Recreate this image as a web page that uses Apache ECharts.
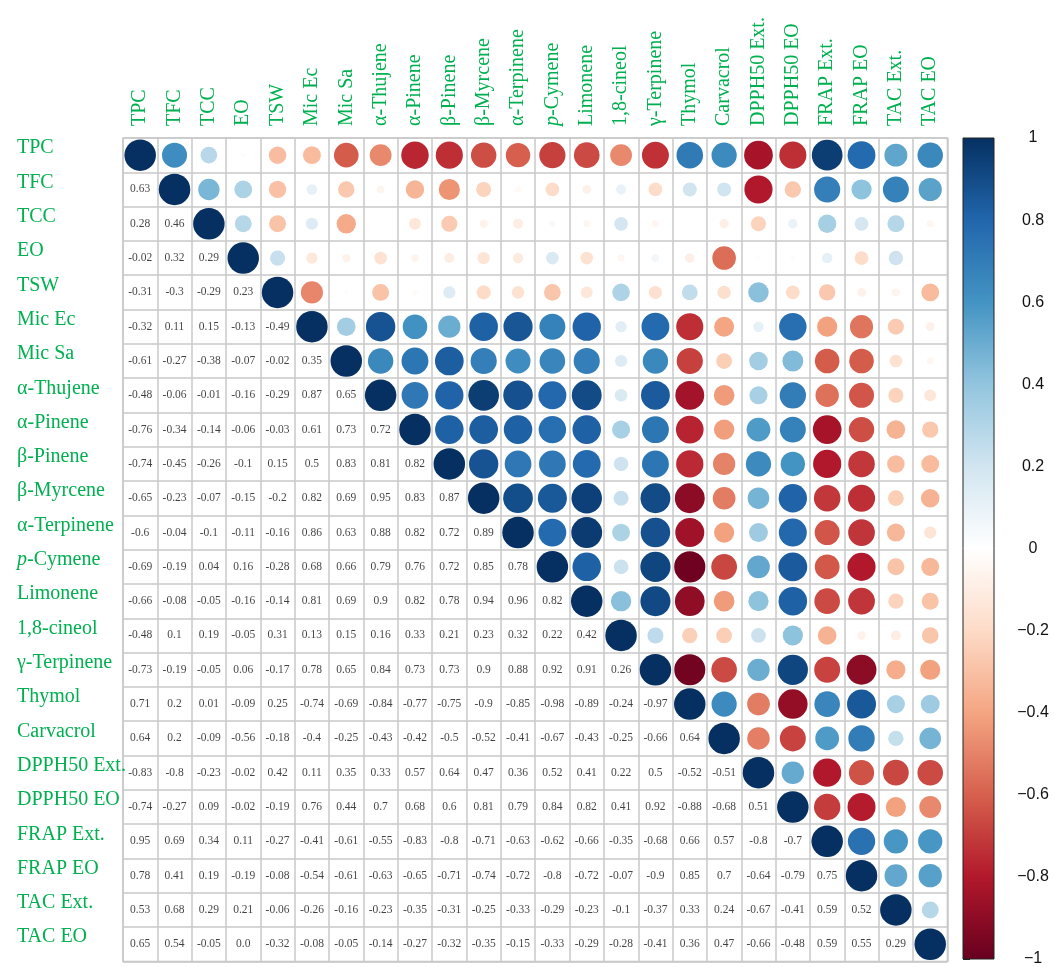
<!DOCTYPE html>
<html>
<head>
<meta charset="utf-8">
<script src="https://cdn.jsdelivr.net/npm/echarts@6/dist/echarts.min.js"></script>
<style>
  html, body { margin: 0; padding: 0; background: #ffffff; }
  #chart { width: 1054px; height: 967px; }
</style>
</head>
<body>
<div id="chart"></div>
<script>
// Variables, in matrix order (rows top to bottom, columns left to right)
const variables = ['TPC', 'TFC', 'TCC', 'EO', 'TSW', 'Mic Ec', 'Mic Sa', 'α-Thujene', 'α-Pinene',
  'β-Pinene', 'β-Myrcene', 'α-Terpinene', 'p-Cymene', 'Limonene', '1,8-cineol', 'γ-Terpinene',
  'Thymol', 'Carvacrol', 'DPPH50 Ext.', 'DPPH50 EO', 'FRAP Ext.', 'FRAP EO', 'TAC Ext.', 'TAC EO'];

// Pearson correlations, lower triangle: row i holds r(i, 0 .. i-1)
const lowerTriangle = [
  [],
  [0.63],
  [0.28, 0.46],
  [-0.02, 0.32, 0.29],
  [-0.31, -0.3, -0.29, 0.23],
  [-0.32, 0.11, 0.15, -0.13, -0.49],
  [-0.61, -0.27, -0.38, -0.07, -0.02, 0.35],
  [-0.48, -0.06, -0.01, -0.16, -0.29, 0.87, 0.65],
  [-0.76, -0.34, -0.14, -0.06, -0.03, 0.61, 0.73, 0.72],
  [-0.74, -0.45, -0.26, -0.1, 0.15, 0.5, 0.83, 0.81, 0.82],
  [-0.65, -0.23, -0.07, -0.15, -0.2, 0.82, 0.69, 0.95, 0.83, 0.87],
  [-0.6, -0.04, -0.1, -0.11, -0.16, 0.86, 0.63, 0.88, 0.82, 0.72, 0.89],
  [-0.69, -0.19, 0.04, 0.16, -0.28, 0.68, 0.66, 0.79, 0.76, 0.72, 0.85, 0.78],
  [-0.66, -0.08, -0.05, -0.16, -0.14, 0.81, 0.69, 0.9, 0.82, 0.78, 0.94, 0.96, 0.82],
  [-0.48, 0.1, 0.19, -0.05, 0.31, 0.13, 0.15, 0.16, 0.33, 0.21, 0.23, 0.32, 0.22, 0.42],
  [-0.73, -0.19, -0.05, 0.06, -0.17, 0.78, 0.65, 0.84, 0.73, 0.73, 0.9, 0.88, 0.92, 0.91, 0.26],
  [0.71, 0.2, 0.01, -0.09, 0.25, -0.74, -0.69, -0.84, -0.77, -0.75, -0.9, -0.85, -0.98, -0.89, -0.24, -0.97],
  [0.64, 0.2, -0.09, -0.56, -0.18, -0.4, -0.25, -0.43, -0.42, -0.5, -0.52, -0.41, -0.67, -0.43, -0.25, -0.66, 0.64],
  [-0.83, -0.8, -0.23, -0.02, 0.42, 0.11, 0.35, 0.33, 0.57, 0.64, 0.47, 0.36, 0.52, 0.41, 0.22, 0.5, -0.52, -0.51],
  [-0.74, -0.27, 0.09, -0.02, -0.19, 0.76, 0.44, 0.7, 0.68, 0.6, 0.81, 0.79, 0.84, 0.82, 0.41, 0.92, -0.88, -0.68, 0.51],
  [0.95, 0.69, 0.34, 0.11, -0.27, -0.41, -0.61, -0.55, -0.83, -0.8, -0.71, -0.63, -0.62, -0.66, -0.35, -0.68, 0.66, 0.57, -0.8, -0.7],
  [0.78, 0.41, 0.19, -0.19, -0.08, -0.54, -0.61, -0.63, -0.65, -0.71, -0.74, -0.72, -0.8, -0.72, -0.07, -0.9, 0.85, 0.7, -0.64, -0.79, 0.75],
  [0.53, 0.68, 0.29, 0.21, -0.06, -0.26, -0.16, -0.23, -0.35, -0.31, -0.25, -0.33, -0.29, -0.23, -0.1, -0.37, 0.33, 0.24, -0.67, -0.41, 0.59, 0.52],
  [0.65, 0.54, -0.05, 0.0, -0.32, -0.08, -0.05, -0.14, -0.27, -0.32, -0.35, -0.15, -0.33, -0.29, -0.28, -0.41, 0.36, 0.47, -0.66, -0.48, 0.59, 0.55, 0.29]
];

// Colour scale ticks (from -1 to 1)
const colorbarTickLabels = ['\u22121', '\u22120.8', '\u22120.6', '\u22120.4', '\u22120.2', '0', '0.2', '0.4', '0.6', '0.8', '1'];

// Diverging red–blue palette, -1 → 1
const rdbu = ['#67001F', '#B2182B', '#D6604D', '#F4A582', '#FDDBC7', '#FFFFFF',
  '#D1E5F0', '#92C5DE', '#4393C3', '#2166AC', '#053061'];

const labelGreen = '#00B050';
const serif = '"Liberation Serif", "Times New Roman", serif';

// Upper triangle + diagonal as circles, lower triangle as numbers
const circleData = [];
const textData = [];
for (let i = 0; i < variables.length; i++) {
  for (let j = 0; j < variables.length; j++) {
    if (j >= i) {
      const r = i === j ? 1 : lowerTriangle[j][i];
      circleData.push([j, i, r]);
    } else {
      textData.push([j, i, lowerTriangle[i][j]]);
    }
  }
}

function fmt(v) { return v === 0 ? '0.0' : String(v); }
function nameLabel(v) { return v === 'p-Cymene' ? '{i|p}-Cymene' : v; }

const gridLine = { color: '#c8c8c8', width: 1.5 };

const chart = echarts.init(document.getElementById('chart'), null, { renderer: 'canvas' });

chart.setOption({
  animation: false,
  backgroundColor: '#ffffff',
  grid: [
    { left: 123, top: 138, width: 824.4, height: 823.4, show: true, borderColor: '#c8c8c8', borderWidth: 1.5 },
    { left: 963, top: 138, width: 31, height: 823 }
  ],
  xAxis: [
    {
      gridIndex: 0, type: 'category', position: 'top', data: variables, boundaryGap: true,
      axisLine: { show: false }, axisTick: { show: false },
      splitLine: { show: true, interval: 0, lineStyle: gridLine },
      axisLabel: {
        interval: 0, rotate: -90, margin: 12, color: labelGreen, fontFamily: serif, fontSize: 20,
        formatter: nameLabel,
        rich: { i: { fontStyle: 'italic', fontFamily: serif, fontSize: 20, color: labelGreen } }
      }
    },
    { gridIndex: 1, type: 'value', min: 0, max: 1, show: false }
  ],
  yAxis: [
    {
      gridIndex: 0, type: 'category', inverse: true, data: variables, boundaryGap: true,
      axisLine: { show: false }, axisTick: { show: false },
      splitLine: { show: true, interval: 0, lineStyle: gridLine },
      axisLabel: {
        interval: 0, align: 'left', margin: 106, padding: [0, 0, 14, 0],
        color: labelGreen, fontFamily: serif, fontSize: 20,
        formatter: nameLabel,
        rich: { i: { fontStyle: 'italic', fontFamily: serif, fontSize: 20, color: labelGreen } }
      }
    },
    {
      gridIndex: 1, type: 'value', min: -1, max: 1, interval: 0.2, position: 'right',
      axisLine: { show: false },
      axisTick: { show: true, length: 7, inside: false, lineStyle: { color: '#222', width: 1 } },
      splitLine: { show: false },
      axisLabel: {
        margin: 39, align: 'center', color: '#111',
        fontFamily: '"Liberation Sans", Arial, sans-serif', fontSize: 16,
        formatter: (v, idx) => colorbarTickLabels[idx]
      }
    }
  ],
  visualMap: {
    show: false, type: 'continuous', min: -1, max: 1, dimension: 2, seriesIndex: 0,
    inRange: { color: rdbu }
  },
  series: [
    {
      name: 'circles', type: 'scatter', xAxisIndex: 0, yAxisIndex: 0,
      symbol: 'circle', data: circleData,
      symbolSize: v => Math.sqrt(Math.abs(v[2])) * 31.5,
      itemStyle: { opacity: 1 },
      z: 3
    },
    {
      name: 'values', type: 'scatter', xAxisIndex: 0, yAxisIndex: 0,
      symbol: 'circle', symbolSize: 1, data: textData,
      itemStyle: { color: 'rgba(0,0,0,0)' },
      label: {
        show: true, position: 'inside', formatter: p => fmt(p.value[2]),
        color: '#111', fontFamily: serif, fontSize: 11.5
      },
      z: 4
    },
    {
      name: 'colorbar', type: 'custom', xAxisIndex: 1, yAxisIndex: 1,
      data: [[0, -1, 1]],
      renderItem: (params, api) => {
        const top = api.coord([0, api.value(2)]);
        const bottom = api.coord([0, api.value(1)]);
        const cs = params.coordSys;
        const stops = rdbu.map((c, k) => ({ offset: 1 - k / (rdbu.length - 1), color: c }));
        stops.reverse();
        return {
          type: 'rect',
          shape: { x: cs.x, y: top[1], width: cs.width, height: bottom[1] - top[1] },
          style: {
            fill: new echarts.graphic.LinearGradient(0, 0, 0, 1, stops),
            stroke: '#222', lineWidth: 1
          }
        };
      },
      silent: true
    }
  ]
});
</script>
</body>
</html>
